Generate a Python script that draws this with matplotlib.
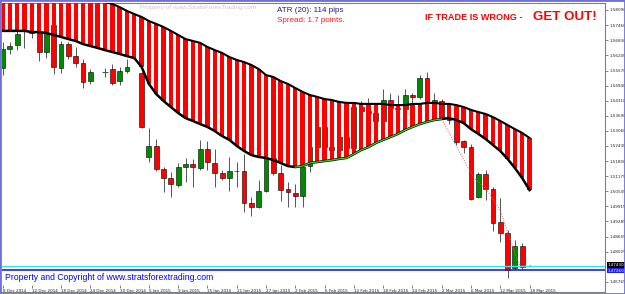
import matplotlib
matplotlib.use("Agg")
import matplotlib.pyplot as plt
import numpy as np
from matplotlib.patches import Rectangle
from matplotlib.lines import Line2D
import matplotlib.transforms as mtransforms

W, H = 625, 294

# GBPUSD daily candles, 8 Dec 2014 .. 18 Mar 2015 (None = holiday, no candle drawn)
opens = [1.5568, 1.5647, 1.5663, 1.5722, 1.5713, 1.5713, 1.5634, 1.5747, 1.5568, 1.5668,
         1.5618, 1.5588, 1.5514, None, 1.5551, 1.5564, 1.5514, 1.5555, None, 1.5547,
         1.5197, 1.5243, 1.5147, 1.5110, 1.5081, 1.5156, 1.5168, 1.5151, 1.5231, 1.5172,
         1.5131, 1.5110, 1.5139, 1.5139, 1.5006, 1.4989, 1.5056, 1.5193, 1.5131, 1.5064,
         1.5047, 1.5035, 1.5160, 1.5240, 1.5320, 1.5240, 1.5226, 1.5280, 1.5235, 1.5405,
         1.5390, 1.5380, 1.5345, 1.5434, 1.5400, 1.5395, 1.5455, 1.5447, 1.5526, 1.5420,
         1.5430, 1.5355, 1.5352, 1.5264, 1.5239, 1.5031, 1.5127, 1.5064, 1.4926, 1.4881,
         1.4735, 1.4827, 1.4743]
highs = [1.5676, 1.5676, 1.5722, 1.5734, 1.5738, 1.5726, 1.5747, 1.5767, 1.5680, 1.5676,
         1.5655, 1.5605, 1.5564, None, 1.5568, 1.5584, 1.5572, 1.5605, None, 1.5551,
         1.5318, 1.5272, 1.5156, 1.5135, 1.5172, 1.5193, 1.5189, 1.5268, 1.5264, 1.5231,
         1.5143, 1.5197, 1.5176, 1.5210, 1.5031, 1.5102, 1.5206, 1.5197, 1.5164, 1.5093,
         1.5085, 1.5164, 1.5255, 1.5335, 1.5350, 1.5265, 1.5300, 1.5295, 1.5415, 1.5430,
         1.5443, 1.5400, 1.5480, 1.5463, 1.5455, 1.5480, 1.5465, 1.5538, 1.5551, 1.5463,
         1.5440, 1.5384, 1.5401, 1.5268, 1.5251, 1.5135, 1.5143, 1.5072, 1.5026, 1.4893,
         1.4852, 1.4839, 1.4747]
lows = [1.5539, 1.5626, 1.5643, 1.5651, 1.5693, 1.5597, 1.5609, 1.5543, 1.5547, 1.5605,
        1.5572, 1.5484, 1.5501, None, 1.5530, 1.5497, 1.5497, 1.5547, None, 1.5318,
        1.5176, 1.5139, 1.5051, 1.5030, 1.5072, 1.5093, 1.5072, 1.5143, 1.5143, 1.5072,
        1.5102, 1.5055, 1.5072, 1.4968, 1.4952, 1.4985, 1.5051, 1.5122, 1.5014, 1.4989,
        1.4989, 1.4989, 1.5135, 1.5195, 1.5225, 1.5196, 1.5210, 1.5215, 1.5225, 1.5370,
        1.5365, 1.5330, 1.5330, 1.5380, 1.5335, 1.5380, 1.5395, 1.5440, 1.5405, 1.5401,
        1.5355, 1.5334, 1.5247, 1.5214, 1.5018, 1.5026, 1.5018, 1.4889, 1.4843, 1.4693,
        1.4727, 1.4727, 1.4743]
closes = [1.5647, 1.5659, 1.5709, 1.5726, 1.5718, 1.5634, 1.5713, 1.5572, 1.5668, 1.5618,
          1.5588, 1.5509, 1.5551, None, 1.5551, 1.5505, 1.5555, 1.5572, None, 1.5322,
          1.5243, 1.5147, 1.5110, 1.5085, 1.5156, 1.5168, 1.5156, 1.5231, 1.5176, 1.5131,
          1.5110, 1.5139, 1.5137, 1.5006, 1.4989, 1.5056, 1.5193, 1.5131, 1.5060, 1.5051,
          1.5035, 1.5156, 1.5240, 1.5320, 1.5240, 1.5226, 1.5280, 1.5235, 1.5405, 1.5390,
          1.5380, 1.5345, 1.5434, 1.5400, 1.5395, 1.5455, 1.5447, 1.5526, 1.5420, 1.5434,
          1.5359, 1.5351, 1.5260, 1.5239, 1.5022, 1.5127, 1.5064, 1.4922, 1.4881, 1.4727,
          1.4827, 1.4739, 1.4743]

# striped band (upper / lower edge)
band_upper = [1.5884, 1.5884, 1.5880, 1.5880, 1.5876, 1.5876, 1.5871, 1.5867, 1.5867, 1.5863,
              1.5859, 1.5855, 1.5851, 1.5846, 1.5842, 1.5834, 1.5821, 1.5805, 1.5792, 1.5780,
              1.5763, 1.5751, 1.5738, 1.5722, 1.5705, 1.5688, 1.5680, 1.5672, 1.5655, 1.5642,
              1.5630, 1.5613, 1.5601, 1.5592, 1.5580, 1.5563, 1.5538, 1.5530, 1.5513, 1.5501,
              1.5484, 1.5468, 1.5455, 1.5447, 1.5438, 1.5434, 1.5426, 1.5422, 1.5422, 1.5418,
              1.5418, 1.5418, 1.5418, 1.5413, 1.5413, 1.5413, 1.5418, 1.5418, 1.5422, 1.5422,
              1.5418, 1.5418, 1.5413, 1.5405, 1.5393, 1.5384, 1.5376, 1.5363, 1.5347, 1.5330,
              1.5313, 1.5297, 1.5276]
band_lower = [1.5722, 1.5722, 1.5722, 1.5722, 1.5717, 1.5717, 1.5713, 1.5705, 1.5697, 1.5688,
              1.5680, 1.5667, 1.5659, 1.5651, 1.5642, 1.5634, 1.5626, 1.5617, 1.5609, 1.5572,
              1.5501, 1.5459, 1.5430, 1.5405, 1.5380, 1.5359, 1.5347, 1.5334, 1.5322, 1.5305,
              1.5284, 1.5268, 1.5243, 1.5222, 1.5205, 1.5197, 1.5193, 1.5184, 1.5172, 1.5159,
              1.5155, 1.5159, 1.5172, 1.5176, 1.5180, 1.5184, 1.5189, 1.5193, 1.5209, 1.5226,
              1.5238, 1.5255, 1.5268, 1.5280, 1.5293, 1.5309, 1.5322, 1.5334, 1.5343, 1.5351,
              1.5355, 1.5359, 1.5351, 1.5338, 1.5313, 1.5293, 1.5272, 1.5247, 1.5222, 1.5189,
              1.5151, 1.5109, 1.5059]
green_start, green_end = 40, 60

# dotted red line over the March sell-off
trend_x = [60.2, 64.3, 66.2, 68.0, 68.9, 70.7]
trend_y = [1.5343, 1.5114, 1.5059, 1.4976, 1.4893, 1.4739]

ask_price = 1.4743
bid_price = 1.4726

date_labels = ["8 Dec 2014", "12 Dec 2014", "18 Dec 2014", "24 Dec 2014", "30 Dec 2014",
               "5 Jan 2015", "9 Jan 2015", "15 Jan 2015", "21 Jan 2015", "27 Jan 2015",
               "2 Feb 2015", "6 Feb 2015", "12 Feb 2015", "18 Feb 2015", "24 Feb 2015",
               "2 Mar 2015", "6 Mar 2015", "12 Mar 2015", "18 Mar 2015"]
date_ticks = list(range(0, 73, 4))
price_ticks = [1.58090, 1.57460, 1.56830, 1.56200, 1.55570, 1.54940, 1.54310, 1.53690,
               1.53060, 1.52430, 1.51800, 1.51175, 1.50545, 1.49915, 1.49285, 1.48655,
               1.48025, 1.46765]


def fx(x):
    return x / W


def fy(y):
    return 1 - y / H


fig = plt.figure(figsize=(W / 100, H / 100), dpi=100)
fig.patch.set_facecolor("white")
ax = fig.add_axes([fx(2), fy(285), fx(605) - fx(2), fy(3) - fy(285)])
ax.set_facecolor("white")

idx = np.arange(len(band_upper))
upper = np.array(band_upper)
lower = np.array(band_lower)

# candles
for i, (o, h, l, c) in enumerate(zip(opens, highs, lows, closes)):
    if o is None:
        continue
    ax.vlines(i, l, h, color="#3a3a3a", lw=0.6, zorder=2)
    if c == o:
        ax.hlines(o, i - 0.35, i + 0.35, color="#555555", lw=0.8, zorder=2)
        continue
    fc = "#008a00" if c > o else "#ff0000"
    ax.add_patch(Rectangle((i - 0.33, min(o, c)), 0.66, abs(c - o),
                           facecolor=fc, edgecolor="black", lw=0.4, zorder=2))

# striped band
ax.bar(idx, upper - lower, bottom=lower, width=0.6, color="#ff0000", lw=0, zorder=3)
ax.plot(idx, upper, color="black", lw=1.5, zorder=4)
ax.plot(idx, lower, color="black", lw=1.8, zorder=4)
ax.plot(idx[green_start:green_end + 1], lower[green_start:green_end + 1],
        color="#22dd22", lw=0.9, zorder=5)

ax.plot(trend_x, trend_y, color="#ff5050", lw=0.7, ls=(0, (1, 1.5)), zorder=5)

# bid / ask lines
ax.axhline(ask_price, color="#30e8f0", lw=1.0, zorder=6)
ax.axhline(bid_price, color="#1a1aff", lw=1.2, zorder=6)

ax.set_xlim(-0.07, 82.31)
ax.set_ylim(1.46639, 1.58381)

ax.set_xticks(date_ticks)
ax.set_xticklabels(date_labels)
for lab in ax.get_xticklabels():
    lab.set_ha("left")
ax.tick_params(axis="x", length=2, width=0.4, labelsize=3, pad=0.8, colors="#222222")
ax.yaxis.tick_right()
ax.set_yticks(price_ticks)
ax.set_yticklabels([f"{v:.5f}" for v in price_ticks])
ax.tick_params(axis="y", length=2, width=0.4, labelsize=3, pad=1, colors="#222222")

for side in ["top", "right"]:
    ax.spines[side].set_color("#808080")
    ax.spines[side].set_linewidth(0.8)
ax.spines["bottom"].set_visible(False)
ax.spines["left"].set_visible(False)

trans = mtransforms.blended_transform_factory(ax.transAxes, ax.transData)
ax.text(1.004, ask_price + 0.0004, f"{ask_price:.5f}", transform=trans, fontsize=3,
        color="white", va="center", ha="left",
        bbox=dict(boxstyle="square,pad=0.15", fc="black", ec="none"), zorder=7)
ax.text(1.004, bid_price - 0.0002, f"{bid_price:.5f}", transform=trans, fontsize=3,
        color="white", va="center", ha="left",
        bbox=dict(boxstyle="square,pad=0.15", fc="#1a1aff", ec="none"), zorder=7)

# frame lines of the terminal window
fig.add_artist(Line2D([fx(605), fx(605)], [fy(285), fy(292)], color="#808080", lw=0.8))
fig.add_artist(Line2D([fx(1), fx(605)], [fy(292), fy(292)], color="#808080", lw=0.8))
fig.add_artist(Rectangle((0, 0), 1, 1, transform=fig.transFigure, fill=False,
                         ec="#7070d8", lw=2.0))

# overlay texts
sans = ["Liberation Sans", "DejaVu Sans"]
fig.text(fx(140), fy(7), "Property of www.StratsForexTrading.com", fontsize=4.6,
         color="#c8c8c8", va="center", ha="left", family=sans)
fig.text(fx(277), fy(11), "ATR (20): 114 pips", fontsize=5.8, color="#1a1a90",
         va="center", ha="left", family=sans)
fig.text(fx(277), fy(20), "Spread: 1.7 points.", fontsize=5.8, color="#ff1a1a",
         va="center", ha="left", family=sans)
fig.text(fx(425), fy(19.5), "IF TRADE IS WRONG - ", fontsize=6.6, color="#ff0000",
         weight="bold", va="baseline", ha="left", family=sans)
fig.text(fx(533), fy(19.5), "GET OUT!", fontsize=9.6, color="#ff0000",
         weight="bold", va="baseline", ha="left", family=sans)
fig.text(fx(5), fy(278), "Property and Copyright of www.stratsforextrading.com",
         fontsize=6.2, color="#0000ff", va="center", ha="left", family=sans)

fig.savefig("out.png", dpi=100)
